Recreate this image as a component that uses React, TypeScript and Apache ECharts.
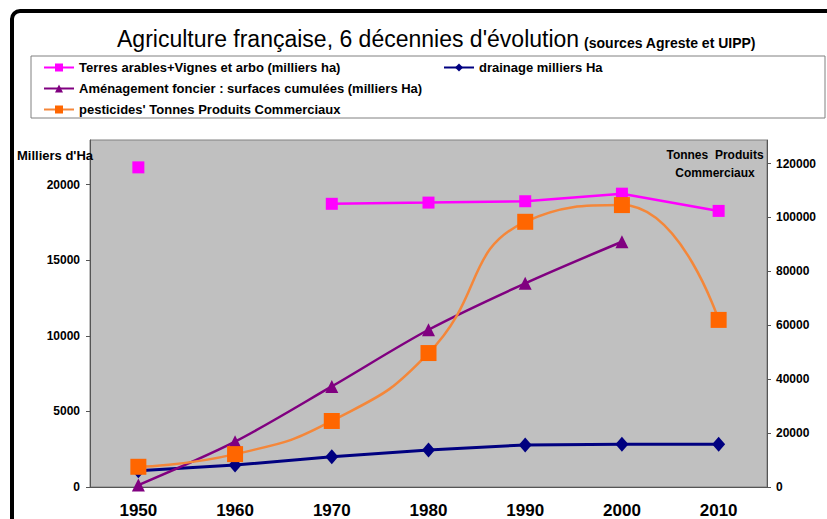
import React, { useEffect, useRef } from 'react';
import * as echarts from 'echarts';

const years = ['1950', '1960', '1970', '1980', '1990', '2000', '2010'];
const terres = [21140, null, 18730, 18810, 18900, 19400, 18260];
const drainage = [1080, 1450, 2000, 2450, 2780, 2820, 2820];
const amenagement = [130, 3000, 6650, 10400, 13470, 16220, null];
const pesticides = [7500, 12200, 24500, 49700, 98400, 104600, 62000];
const leftTicks = [0, 5000, 10000, 15000, 20000];
const rightTicks = [0, 20000, 40000, 60000, 80000, 100000, 120000];

const names = {
  terres: 'Terres arables+Vignes et arbo (milliers ha)',
  drainage: 'drainage milliers Ha',
  amenagement: 'Aménagement foncier : surfaces cumulées (milliers Ha)',
  pesticides: "pesticides' Tonnes Produits Commerciaux",
};

const FONT = "'Liberation Sans', Arial, sans-serif";

export default function App() {
  const ref = useRef<HTMLDivElement>(null);
  useEffect(() => {
    const chart = echarts.init(ref.current as HTMLDivElement, null, { renderer: 'svg' });
    const legendBase = {
      orient: 'horizontal',
      itemWidth: 30,
      itemHeight: 10,
      itemGap: 5,
      padding: 0,
      textStyle: { fontFamily: FONT, fontWeight: 'bold', fontSize: 13, color: '#000' },
    };
    const plain = (v: number) => String(v);
    chart.setOption({
      animation: false,
      backgroundColor: '#ffffff',
      title: {
        text: "{a|Agriculture française, 6 décennies d'évolution} {b|(sources Agreste et UIPP)}",
        left: 117,
        top: 23,
        padding: 0,
        textStyle: {
          fontWeight: 'normal',
          rich: {
            a: { fontSize: 23, fontFamily: FONT, fontWeight: 'normal', color: '#000', lineHeight: 27, verticalAlign: 'bottom' },
            b: { fontSize: 14, fontFamily: FONT, fontWeight: 'bold', color: '#000', lineHeight: 19, verticalAlign: 'bottom' },
          },
        },
      },
      legend: [
        { ...legendBase, data: [names.terres], left: 43, top: 61 },
        { ...legendBase, data: [names.drainage], left: 443, top: 61 },
        { ...legendBase, data: [names.amenagement], left: 43, top: 82 },
        { ...legendBase, data: [names.pesticides], left: 43, top: 103 },
      ],
      grid: {
        left: 90,
        right: 60,
        top: 140,
        bottom: 32,
        show: true,
        backgroundColor: '#c0c0c0',
        borderColor: '#808080',
        borderWidth: 1,
      },
      xAxis: {
        type: 'category',
        data: years,
        boundaryGap: true,
        axisLine: { lineStyle: { color: '#555', width: 1 } },
        axisTick: { length: 5, lineStyle: { color: '#555' } },
        axisLabel: { fontFamily: FONT, fontWeight: 'bold', fontSize: 17, color: '#000', margin: 15 },
      },
      yAxis: [
        {
          type: 'value',
          min: 0,
          max: 22950,
          position: 'left',
          splitLine: { show: false },
          axisLine: { show: true, lineStyle: { color: '#555' } },
          axisTick: { show: true, length: 4, customValues: leftTicks, lineStyle: { color: '#555' } },
          axisLabel: { customValues: leftTicks, formatter: plain, fontFamily: FONT, fontWeight: 'bold', fontSize: 12, color: '#000', margin: 10 },
        },
        {
          type: 'value',
          min: 0,
          max: 128750,
          position: 'right',
          splitLine: { show: false },
          axisLine: { show: true, lineStyle: { color: '#555' } },
          axisTick: { show: true, length: 4, customValues: rightTicks, lineStyle: { color: '#555' } },
          axisLabel: { customValues: rightTicks, formatter: plain, fontFamily: FONT, fontWeight: 'bold', fontSize: 12, color: '#000', margin: 9 },
        },
      ],
      series: [
        {
          name: names.terres,
          type: 'line',
          yAxisIndex: 0,
          data: terres,
          connectNulls: false,
          symbol: 'rect',
          symbolSize: 12,
          lineStyle: { color: '#ff00ff', width: 2.5 },
          itemStyle: { color: '#ff00ff' },
        },
        {
          name: names.drainage,
          type: 'line',
          yAxisIndex: 0,
          data: drainage,
          symbol: 'diamond',
          symbolSize: [13, 15],
          lineStyle: { color: '#000080', width: 3 },
          itemStyle: { color: '#000080' },
        },
        {
          name: names.amenagement,
          type: 'line',
          yAxisIndex: 0,
          data: amenagement,
          smooth: 0.3,
          symbol: 'triangle',
          symbolSize: 13,
          lineStyle: { color: '#800080', width: 2.5 },
          itemStyle: { color: '#800080' },
        },
        {
          name: names.pesticides,
          type: 'line',
          yAxisIndex: 1,
          data: pesticides,
          smooth: 0.5,
          symbol: 'rect',
          symbolSize: 16,
          lineStyle: { color: '#f4873a', width: 2.5 },
          itemStyle: { color: '#ff6600' },
        },
      ],
      graphic: [
        {
          type: 'rect',
          silent: true,
          shape: { x: 12, y: 11, width: 900, height: 600, r: 8 },
          style: { fill: 'none', stroke: '#000', lineWidth: 4 },
        },
        {
          type: 'rect',
          silent: true,
          shape: { x: 31, y: 56, width: 794, height: 62 },
          style: { fill: 'none', stroke: '#808080', lineWidth: 1 },
        },
        {
          type: 'text',
          x: 17,
          y: 155,
          z: 100,
          style: { text: "Milliers d'Ha", font: `bold 13px ${FONT}`, fill: '#000', textVerticalAlign: 'middle' },
        },
        {
          type: 'text',
          x: 715,
          y: 164,
          z: 100,
          style: {
            text: 'Tonnes  Produits\nCommerciaux',
            font: `bold 12px ${FONT}`,
            fill: '#000',
            textAlign: 'center',
            textVerticalAlign: 'middle',
            lineHeight: 18,
          },
        },
      ],
    });
    return () => chart.dispose();
  }, []);
  return <div ref={ref} style={{ position: 'absolute', left: 0, top: 0, width: 827, height: 519 }} />;
}
